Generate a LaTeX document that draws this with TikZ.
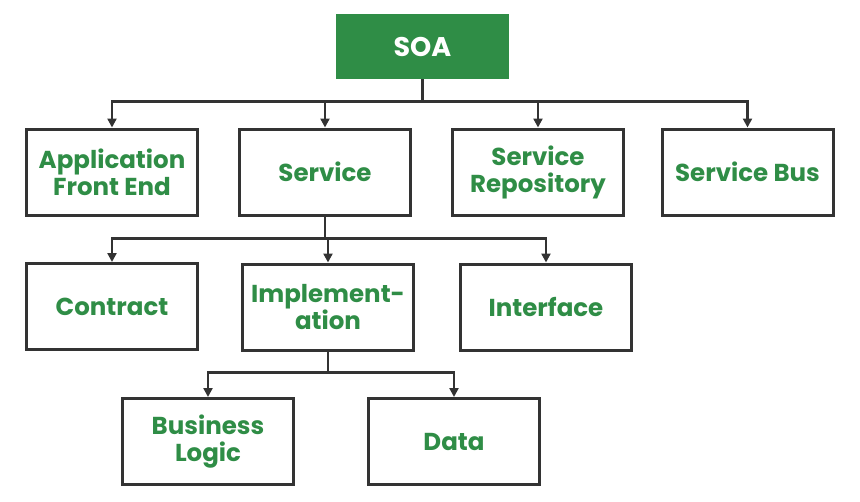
\documentclass[tikz,border=0pt]{standalone}
\usepackage{fontspec}
\setmainfont{Poppins}
\usepackage{tikz}
\usetikzlibrary{positioning,arrows.meta}
\usepackage{xcolor}
\definecolor{SoaGreen}{HTML}{2F8D46}
\definecolor{LineGray}{HTML}{333333}
\begin{document}
\begin{tikzpicture}[x=1pt,y=-1pt,
  every node/.style={font=\fontsize{24.5}{27}\selectfont\bfseries},
  box/.style={draw=LineGray,line width=3pt,fill=white,text=SoaGreen,align=center,minimum width=171pt,minimum height=86pt,inner sep=0pt},
  link/.style={draw=LineGray,line width=2.6pt,-{Triangle[width=9pt,length=9pt]}}]
\useasboundingbox (0,0) rectangle (860,501);
\node[fill=SoaGreen,text=white,minimum width=173pt,minimum height=65pt,inner sep=0pt,font=\fontsize{27}{30}\selectfont\bfseries] (soa) at (422.5,46.5) {SOA};
% first level
\node[box] (front) at (112,172) {Application\\Front End};
\node[box] (service) at (325,172) {Service};
\node[box] (repo) at (538,172) {Service\\Repository};
\node[box] (bus) at (747.5,172) {Service Bus};
% parts of a service
\node[box] (contract) at (112,306.5) {Contract};
\node[box] (impl) at (328,307) {Implement-\\ation};
\node[box] (iface) at (546,307) {Interface};
% parts of the implementation
\node[box] (logic) at (208,441.5) {Business\\Logic};
\node[box] (data) at (454,441.5) {Data};
\draw[link] (soa.south) -- ++(0,22.5) coordinate (soajoin) -| (front.north);
\draw[link] (soajoin) -| (service.north);
\draw[link] (soajoin) -| (repo.north);
\draw[link] (soajoin) -| (bus.north);
\draw[link] (service.south) -- ++(0,22) coordinate (servjoin) -| (contract.north);
\draw[link] (servjoin) -| (impl.north);
\draw[link] (servjoin) -| (iface.north);
\draw[link] (impl.south) -- ++(0,21) coordinate (impljoin) -| (logic.north);
\draw[link] (impljoin) -| (data.north);
\end{tikzpicture}
\end{document}
